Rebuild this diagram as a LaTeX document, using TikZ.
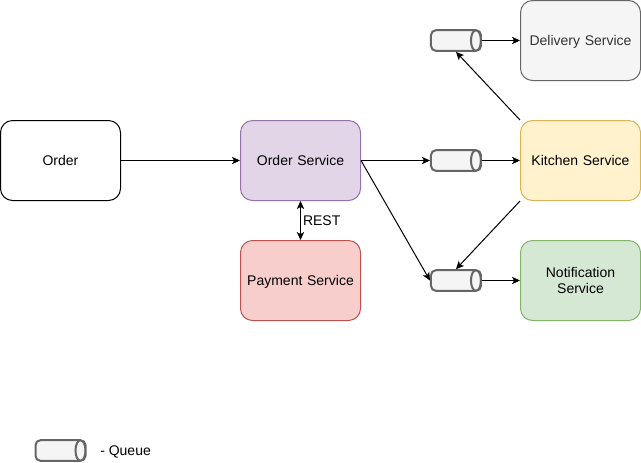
\documentclass[tikz,border=0pt]{standalone}
\usepackage{fontspec}
\setmainfont{Liberation Sans}
\usepackage{tikz}
\usetikzlibrary{arrows.meta}
\definecolor{orderfill}{HTML}{E1D5E7}
\definecolor{orderline}{HTML}{9673A6}
\definecolor{paymentfill}{HTML}{F8CECC}
\definecolor{paymentline}{HTML}{B85450}
\definecolor{kitchenfill}{HTML}{FFF2CC}
\definecolor{kitchenline}{HTML}{D6B656}
\definecolor{deliveryfill}{HTML}{F5F5F5}
\definecolor{deliveryline}{HTML}{666666}
\definecolor{notifyfill}{HTML}{D5E8D4}
\definecolor{notifyline}{HTML}{82B366}
\tikzstyle{service} = [rectangle, rounded corners = 9pt, minimum width = 90pt,
  minimum height = 60pt, text width = 84pt, text depth = 0pt, align = center, inner sep = 0pt,
  line width = 0.75pt, font = \fontsize{10.5pt}{12pt}\selectfont, draw = black, fill = white]
\tikzstyle{queue} = [rectangle, rounded corners = 3.75pt, minimum width = 37.5pt,
  minimum height = 15.5pt, inner sep = 0pt, line width = 1.5pt, draw = deliveryline,
  fill = deliveryfill, path picture = {
    \draw [deliveryline, line width = 1.5pt] ([xshift = -3.75pt]path picture bounding box.east)
      ellipse [x radius = 3.75pt, y radius = 7.75pt];}]
\tikzstyle{caption} = [font = \fontsize{10.5pt}{12pt}\selectfont, text depth = 0pt, inner sep = 0pt]
\tikzstyle{arrow} = [line width = 0.75pt, ->, >={Stealth[length = 6pt, width = 5.5pt, inset = 1.5pt]}]

\begin{document}
\begin{tikzpicture}[x = 0.75pt, y = -0.75pt, node distance = 90pt]
  \useasboundingbox (0,0) rectangle (641,462);
  \node (order) [service] at (60.5,160.5) {Order};
  \node (order-service) [service, right of = order, xshift = 90pt, fill = orderfill, draw = orderline] {Order Service};
  \node (payment) [service, below of = order-service, fill = paymentfill, draw = paymentline] {Payment Service};
  \node (kitchen) [service, right of = order-service, xshift = 120pt, fill = kitchenfill, draw = kitchenline] {Kitchen Service};
  \node (delivery) [service, above of = kitchen, fill = deliveryfill, draw = deliveryline, text = black!80] {Delivery Service};
  \node (notification) [service, below of = kitchen, text depth = 12pt, fill = notifyfill, draw = notifyline] {Notification\\Service};
  \node (queue-2) [queue, right of = order-service, xshift = 26.6pt] {};
  \node (queue-1) [queue, above of = queue-2] {};
  \node (queue-3) [queue, below of = queue-2] {};
  \node (legend-queue) [queue] at (60.5,450.5) {};
  \node (legend-label) [caption, anchor = west] at (100,451) {- Queue};

  \draw [arrow] (order) -- (order-service);
  \draw [arrow, <->] (order-service) -- node[caption, anchor = west, xshift = 1.5pt] {REST} (payment);
  \draw [arrow] (order-service) -- (queue-2);
  \draw [arrow] (order-service.east) -- (queue-3.west);
  \draw [arrow] (queue-2) -- (kitchen);
  \draw [arrow] (kitchen.north west) -- (queue-1.south);
  \draw [arrow] (kitchen.south west) -- (queue-3.north);
  \draw [arrow] (queue-1) -- (delivery);
  \draw [arrow] (queue-3) -- (notification);
\end{tikzpicture}
\end{document}
